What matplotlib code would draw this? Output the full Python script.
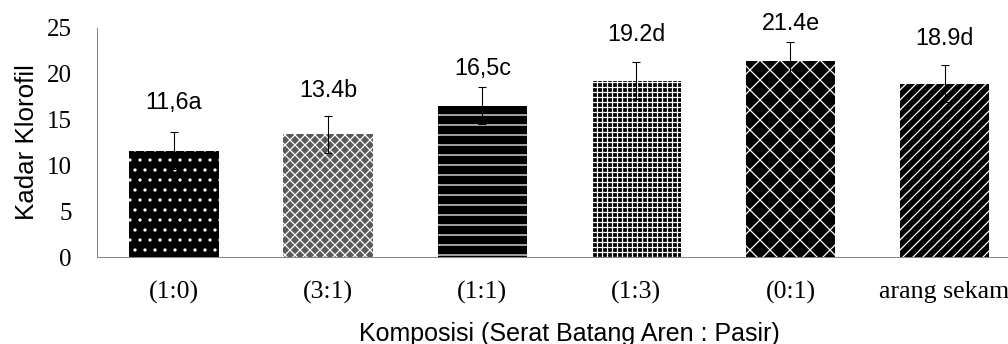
import matplotlib
matplotlib.use("Agg")
import matplotlib.pyplot as plt

# Data kadar klorofil per komposisi media
komposisi = ['(1:0)', '(3:1)', '(1:1)', '(1:3)', '(0:1)', 'arang sekam']
klorofil = [11.6, 13.4, 16.5, 19.2, 21.4, 18.9]
sd = [2.0, 2.0, 2.0, 2.0, 2.0, 2.0]
notasi = ['11,6a', '13.4b', '16,5c', '19.2d', '21.4e', '18.9d']

# warna dasar + arsir tiap batang
pola = [('black', '.'), ('#5a5a5a', 'xx'), ('black', '-'),
        ('black', '++'), ('black', 'x'), ('black', '//')]
# jarak label (pt) di atas ujung error bar
label_pad = [36, 30, 23, 34, 22, 32]

DPI = 60
plt.rcParams['hatch.linewidth'] = 1.5

fig = plt.figure(figsize=(1008 / DPI, 344 / DPI), dpi=DPI)
ax = fig.add_axes([97 / 1008, 1 - 257.3 / 344, 924.6 / 1008, 229.8 / 344])

x = range(len(komposisi))
bars = ax.bar(x, klorofil, width=0.58, yerr=sd, capsize=4.8,
              error_kw=dict(elinewidth=1.3, capthick=1.3, ecolor='black'))
for b, (fc, h) in zip(bars, pola):
    b.set_facecolor(fc)
    b.set_edgecolor('white')
    b.set_linewidth(0)
    b.set_hatch(h)

for i, (v, e, t, p) in enumerate(zip(klorofil, sd, notasi, label_pad)):
    ax.annotate(t, (i, v + e), xytext=(0, p), textcoords='offset points',
                ha='center', va='center', fontsize=28, family='Liberation Sans')

ax.set_xlim(-0.5, 5.5)
ax.set_ylim(0, 25)
ax.set_yticks([0, 5, 10, 15, 20, 25])
ax.set_xticks(list(x))
ax.set_xticklabels(komposisi)
for lab in ax.get_yticklabels():
    lab.set_fontfamily('Liberation Serif')
    lab.set_fontsize(30)
for lab in ax.get_xticklabels():
    lab.set_fontfamily('Liberation Serif')
    lab.set_fontsize(31)
ax.tick_params(axis='y', length=0, pad=30)
ax.tick_params(axis='x', length=0, pad=28)

for s in ['top', 'right']:
    ax.spines[s].set_visible(False)
for s in ['left', 'bottom']:
    ax.spines[s].set_color('#868686')
    ax.spines[s].set_linewidth(1.2)

ax.set_ylabel('Kadar Klorofil', fontsize=31, family='Liberation Sans')
ax.yaxis.set_label_coords(-0.0625, 0.5)
ax.set_xlabel('Komposisi (Serat Batang Aren : Pasir)', fontsize=30, family='Liberation Sans')
ax.xaxis.set_label_coords(0.5105, -0.2816)

fig.savefig('out.png', dpi=DPI)
